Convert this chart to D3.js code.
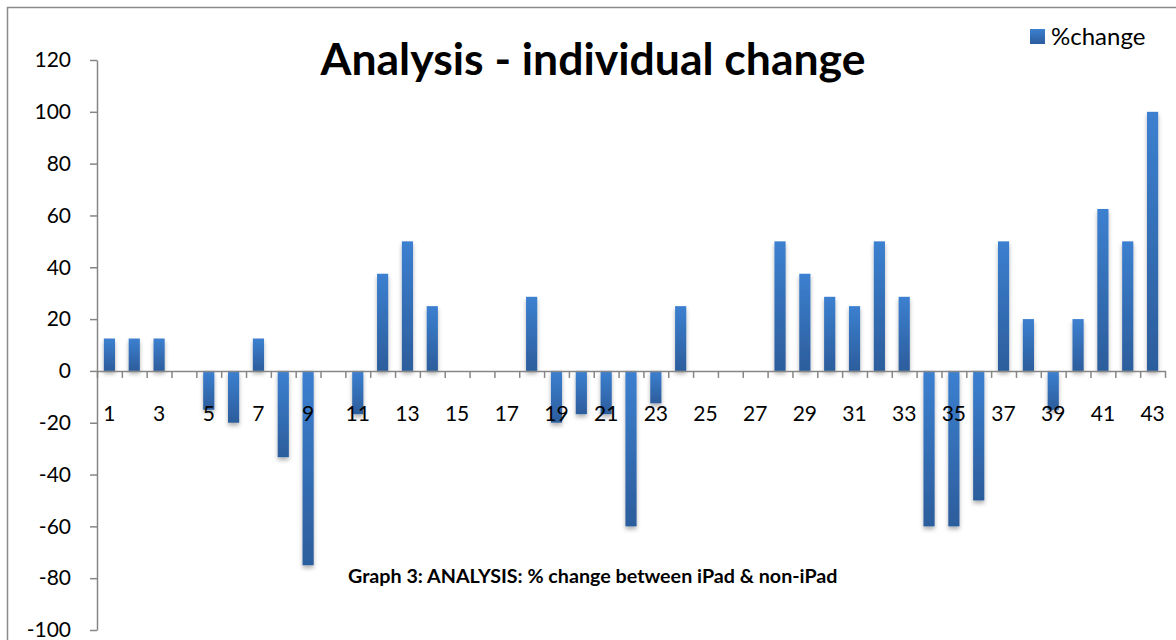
<!DOCTYPE html>
<meta charset="utf-8">
<style>
body{margin:0;background:#fff;}
text{font-family:'Lato','Open Sans',sans-serif;fill:#000;}
</style>
<svg id='svg'></svg>
<script src="https://d3js.org/d3.v7.min.js"></script>
<script>

var width = 1176, height = 640;

// data
var categories = d3.range(1, 44).map(String)
var values = [12.5, 12.5, 12.5, 0, -15, -20, 12.5, -33.3, -75, 0,
  -16.7, 37.5, 50, 25, 0, 0, 0, 28.6, -20, -16.7,
  -16.7, -60, -12.5, 25, 0, 0, 0, 50, 37.5, 28.6,
  25, 50, 28.6, -60, -60, -50, 50, 20, -15, 20,
  62.5, 50, 100]
var yTicks = [-100, -80, -60, -40, -20, 0, 20, 40, 60, 80, 100, 120]
var seriesName = '%change'
var title = 'Analysis - individual change'
var caption = 'Graph 3: ANALYSIS: % change between iPad & non-iPad'

var data = categories.map((c, i) => ({cat: c, v: values[i]}))

var svg = d3.select('svg').attr('width', width).attr('height', height)

var defs = svg.append('defs')
var grad = defs.append('linearGradient').attr('id', 'barfill')
  .attr('x1', 0).attr('y1', 0).attr('x2', 0).attr('y2', 1)
grad.append('stop').attr('offset', '0%').attr('stop-color', '#3c80d0')
grad.append('stop').attr('offset', '100%').attr('stop-color', '#2c5d9c')
var sh = defs.append('filter').attr('id', 'shadow')
  .attr('x', '-50%').attr('y', '-20%').attr('width', '200%').attr('height', '140%')
sh.append('feDropShadow').attr('dx', 0).attr('dy', 3).attr('stdDeviation', 2)
  .attr('flood-color', '#000').attr('flood-opacity', 0.3)

// chart frame (runs off the picture on the right and bottom)
svg.append('rect').attr('x', 7.5).attr('y', 7.5).attr('width', 1300).attr('height', 800)
  .attr('fill', 'none').attr('stroke', '#8a8a8a').attr('stroke-width', 1.5)

var x = d3.scaleBand().domain(categories).range([97, 1165])
  .paddingInner(0.55).paddingOuter(0.275)
var xi = d3.scaleLinear().domain([0, categories.length]).range([97, 1165])
var y = d3.scaleLinear().domain([-100, 120]).range([630, 60])

// bars
svg.append('g').selectAll('rect').data(data.filter(d => d.v !== 0)).enter()
  .append('rect')
  .attr('x', d => x(d.cat))
  .attr('width', x.bandwidth())
  .attr('y', d => y(Math.max(0, d.v)))
  .attr('height', d => Math.abs(y(d.v) - y(0)))
  .attr('fill', 'url(#barfill)')
  .attr('filter', 'url(#shadow)')

// y axis
var yAxis = svg.append('g').attr('transform', 'translate(97,0)')
  .call(d3.axisLeft(y).tickValues(yTicks).tickSize(7).tickSizeOuter(0).tickPadding(19)
    .tickFormat(d => String(d)))
yAxis.selectAll('path,line').attr('stroke', '#868686').attr('stroke-width', 1.5)
yAxis.selectAll('text').style('font-size', '21px').attr('fill', '#000')
  .style('font-family', "'Lato',sans-serif")

// category axis on the zero line
var xAxis = svg.append('g').attr('transform', 'translate(0,' + y(0) + ')')
  .call(d3.axisBottom(xi).tickValues(d3.range(0, categories.length + 1)).tickSize(7).tickSizeOuter(0).tickFormat(''))
xAxis.selectAll('path,line').attr('stroke', '#868686').attr('stroke-width', 1.5)

svg.append('g').selectAll('text').data(categories.filter((c, i) => i % 2 === 0)).enter()
  .append('text')
  .attr('x', d => x(d) + x.bandwidth() / 2)
  .attr('y', y(0) + 50)
  .attr('text-anchor', 'middle')
  .style('font-size', '21px')
  .text(d => d)

// title
svg.append('text').attr('x', 593).attr('y', 75)
  .attr('text-anchor', 'middle')
  .style('font-size', '44.5px').style('font-weight', 'bold')
  .text(title)

// caption inside plot
svg.append('text').attr('x', 348).attr('y', 583)
  .style('font-size', '19.7px').style('font-weight', 'bold')
  .text(caption)

// legend
var lg = svg.append('g').attr('transform', 'translate(1030,29)')
lg.append('rect').attr('width', 15).attr('height', 15).attr('fill', 'url(#barfill)')
lg.append('text').attr('x', 21).attr('y', 16).style('font-size', '24px').text(seriesName)

</script>
